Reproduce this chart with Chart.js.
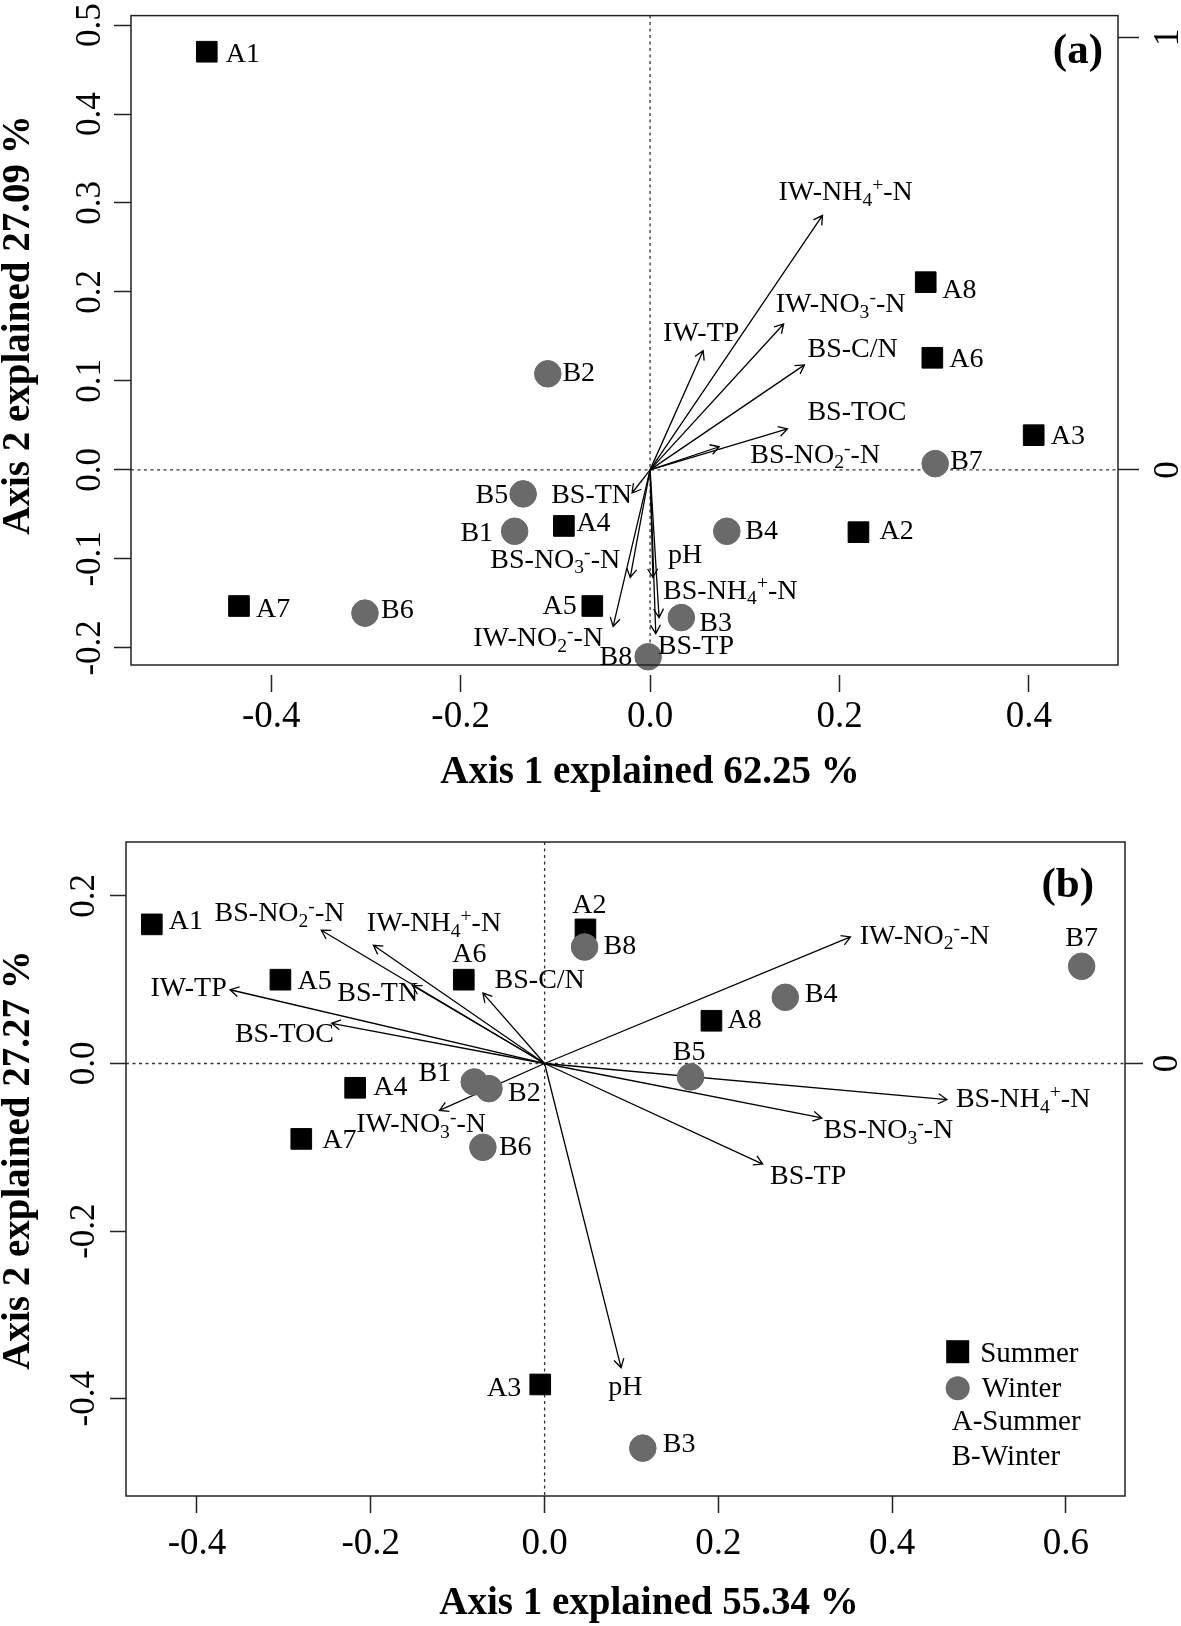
<!DOCTYPE html>
<html>
<head>
<meta charset="utf-8">
<title>RDA biplots</title>
<script src="https://cdn.jsdelivr.net/npm/chart.js@4.4.1/dist/chart.umd.min.js"></script>
<style>
  html, body { margin: 0; padding: 0; background: #fff; }
  .panel { position: absolute; left: 0; width: 1181px; }
  #panelA { top: 0; height: 800px; }
  #panelB { top: 800px; height: 826px; }
</style>
</head>
<body>
<div class="panel" id="panelA"><canvas id="chartA"></canvas></div>
<div class="panel" id="panelB"><canvas id="chartB"></canvas></div>
<script>
// ---- panel (a) ----
const summerNamesA = ['A1', 'A2', 'A3', 'A4', 'A5', 'A6', 'A7', 'A8'];
const summerXA = [-0.468, 0.220, 0.405, -0.091, -0.061, 0.298, -0.434, 0.291];
const summerYA = [0.470, -0.070, 0.039, -0.063, -0.153, 0.126, -0.153, 0.211];
const winterNamesA = ['B1', 'B2', 'B3', 'B4', 'B5', 'B6', 'B7', 'B8'];
const winterXA = [-0.143, -0.108, 0.033, 0.081, -0.134, -0.301, 0.301, -0.002];
const winterYA = [-0.069, 0.108, -0.166, -0.069, -0.027, -0.161, 0.007, -0.210];
const envNamesA = ['IW-NH_4^+-N', 'IW-NO_3^--N', 'IW-TP', 'BS-C/N', 'BS-TOC', 'BS-NO_2^--N',
  'BS-TN', 'BS-NO_3^--N', 'IW-NO_2^--N', 'pH', 'BS-NH_4^+-N', 'BS-TP'];
const envXA = [0.182, 0.141, 0.056, 0.163, 0.145, 0.073, -0.019, -0.021, -0.039, 0.003, 0.0095, 0.006];
const envYA = [0.286, 0.164, 0.134, 0.118, 0.046, 0.026, -0.026, -0.121, -0.176, -0.121, -0.166, -0.184];
const xTicksA = [-0.4, -0.2, 0.0, 0.2, 0.4];
const yTicksA = [-0.2, -0.1, 0.0, 0.1, 0.2, 0.3, 0.4, 0.5];
const y2TicksA = [0, 1];

// ---- panel (b) ----
const summerNamesB = ['A1', 'A2', 'A3', 'A4', 'A5', 'A6', 'A7', 'A8'];
const summerXB = [-0.452, 0.047, -0.005, -0.218, -0.304, -0.093, -0.280, 0.192];
const summerYB = [0.166, 0.160, -0.383, -0.029, 0.100, 0.100, -0.090, 0.051];
const winterNamesB = ['B1', 'B2', 'B3', 'B4', 'B5', 'B6', 'B7', 'B8'];
const winterXB = [-0.081, -0.064, 0.113, 0.277, 0.168, -0.071, 0.618, 0.046];
const winterYB = [-0.022, -0.030, -0.459, 0.079, -0.016, -0.100, 0.116, 0.139];
const envNamesB = ['BS-NO_2^--N', 'IW-NH_4^+-N', 'IW-TP', 'BS-TN', 'BS-TOC', 'BS-C/N',
  'IW-NO_3^--N', 'IW-NO_2^--N', 'BS-NH_4^+-N', 'BS-NO_3^--N', 'BS-TP', 'pH'];
const envXB = [-0.257, -0.197, -0.362, -0.152, -0.245, -0.071, -0.121, 0.352, 0.463, 0.319, 0.251, 0.088];
const envYB = [0.159, 0.141, 0.088, 0.093, 0.048, 0.084, -0.056, 0.151, -0.043, -0.065, -0.120, -0.363];
const xTicksB = [-0.4, -0.2, 0.0, 0.2, 0.4, 0.6];
const yTicksB = [-0.4, -0.2, 0.0, 0.2];
const y2TicksB = [0];

// label placement: [dx, dy, align] in pixels from the mark
const pointPlaceA = {
  A1: [19, 10, 'left'], A2: [21, 7, 'left'], A3: [17, 9, 'left'], A4: [12.5, 5.5, 'left'],
  A5: [-15.5, 8, 'right'], A6: [17, 9.5, 'left'], A7: [17, 11, 'left'], A8: [16.5, 16, 'left'],
  B1: [-21.5, 9.5, 'right'], B2: [14.6, 7, 'left'], B3: [18, 13, 'left'], B4: [18.5, 7.5, 'left'],
  B5: [-15, 9, 'right'], B6: [16, 5, 'left'], B7: [15, 5, 'left'], B8: [-16, 8, 'right']
};
const envPlaceA = {
  'IW-NH_4^+-N': [-44, -15, 'left'], 'IW-NO_3^--N': [-8, -12, 'left'], 'IW-TP': [-40, -10, 'left'],
  'BS-C/N': [3, -8, 'left'], 'BS-TOC': [20, -9, 'left'], 'BS-NO_2^--N': [31, 16, 'left'],
  'BS-TN': [0, 10, 'right'], 'BS-NO_3^--N': [-10, -10, 'right'], 'IW-NO_2^--N': [-10, 20, 'right'],
  'pH': [15, -15, 'left'], 'BS-NH_4^+-N': [4, -19, 'left'], 'BS-TP': [2, 20, 'left']
};
const pointPlaceB = {
  A1: [17, 5, 'left'], A2: [4, -16, 'center'], A3: [-19, 11.5, 'right'], A4: [18, 7.5, 'left'],
  A5: [17, 9, 'left'], A6: [5.5, -18, 'center'], A7: [21, 9, 'left'], A8: [16, 7, 'left'],
  B1: [-23, -1, 'right'], B2: [19, 12.7, 'left'], B3: [20, 4, 'left'], B4: [19.5, 5, 'left'],
  B5: [-1.5, -17, 'center'], B6: [16, 8, 'left'], B7: [0, -20, 'center'], B8: [19, 7, 'left']
};
const envPlaceB = {
  'BS-NO_2^--N': [-106.7, -9, 'left'], 'IW-NH_4^+-N': [-6.6, -14.3, 'left'], 'IW-TP': [-3.3, 6.7, 'right'],
  'BS-TN': [5.6, 15.7, 'right'], 'BS-TOC': [2.3, 18.4, 'right'], 'BS-C/N': [11.7, -5, 'left'],
  'IW-NO_3^--N': [-83.3, 21.7, 'left'], 'IW-NO_2^--N': [9.3, 6.7, 'left'], 'BS-NH_4^+-N': [9, 7.4, 'left'],
  'BS-NO_3^--N': [1.6, 20, 'left'], 'BS-TP': [7.3, 20, 'left'], 'pH': [-12.8, 27.7, 'left']
};

const serif = '"Liberation Serif", "Times New Roman", serif';
const grey = '#6a6a6a';

function richSegments(s) {
  const segs = [];
  for (let i = 0; i < s.length; i++) {
    let kind = '', ch = s[i];
    if ((ch === '_' || ch === '^') && i + 1 < s.length) { kind = ch; ch = s[++i]; }
    const last = segs[segs.length - 1];
    if (last && last.kind === kind) last.text += ch;
    else segs.push({ kind, text: ch });
  }
  return segs;
}

function drawRich(ctx, s, x, y, size, align) {
  const segs = richSegments(s);
  const fontOf = g => (g.kind ? size * 0.7 : size) + 'px ' + serif;
  let w = 0;
  segs.forEach(g => { ctx.font = fontOf(g); g.w = ctx.measureText(g.text).width; w += g.w; });
  let cx = align === 'right' ? x - w : align === 'center' ? x - w / 2 : x;
  ctx.textAlign = 'left';
  ctx.textBaseline = 'alphabetic';
  segs.forEach(g => {
    ctx.font = fontOf(g);
    const dy = g.kind === '_' ? size * 0.2 : g.kind === '^' ? -size * 0.33 : 0;
    ctx.fillText(g.text, cx, y + dy);
    cx += g.w;
  });
}

function drawArrow(ctx, x1, y1, x2, y2) {
  const ang = Math.atan2(y2 - y1, x2 - x1);
  const h = 10, a = Math.PI / 6;
  ctx.beginPath();
  ctx.moveTo(x1, y1);
  ctx.lineTo(x2, y2);
  ctx.moveTo(x2 - h * Math.cos(ang - a), y2 - h * Math.sin(ang - a));
  ctx.lineTo(x2, y2);
  ctx.lineTo(x2 - h * Math.cos(ang + a), y2 - h * Math.sin(ang + a));
  ctx.stroke();
}

function rotText(ctx, text, x, y, font) {
  ctx.save();
  ctx.translate(x, y);
  ctx.rotate(-Math.PI / 2);
  ctx.font = font;
  ctx.textAlign = 'center';
  ctx.textBaseline = 'alphabetic';
  ctx.fillText(text, 0, 0);
  ctx.restore();
}

function biplotPlugin(p) {
  return {
    id: 'biplot',
    beforeDatasetsDraw(chart) {
      const { ctx, chartArea: a, scales: { x, y } } = chart;
      const x0 = x.getPixelForValue(0), y0 = y.getPixelForValue(0);
      ctx.save();
      ctx.strokeStyle = '#333';
      ctx.lineWidth = 1.3;
      ctx.setLineDash([3, 3.5]);
      ctx.beginPath();
      ctx.moveTo(x0, a.top); ctx.lineTo(x0, a.bottom);
      ctx.moveTo(a.left, y0); ctx.lineTo(a.right, y0);
      ctx.stroke();
      ctx.setLineDash([]);
      ctx.strokeStyle = '#000';
      ctx.lineWidth = 1.3;
      p.envX.forEach((vx, i) => {
        drawArrow(ctx, x0, y0, x.getPixelForValue(vx), y.getPixelForValue(p.envY[i]));
      });
      ctx.restore();
    },
    afterDatasetsDraw(chart) {
      const { ctx, chartArea: a, scales: { x, y, y2 } } = chart;
      ctx.save();
      ctx.strokeStyle = '#222';
      ctx.lineWidth = 1.5;
      ctx.strokeRect(a.left, a.top, a.right - a.left, a.bottom - a.top);
      ctx.fillStyle = '#000';

      chart.data.datasets.forEach(ds => ds.data.forEach(d => {
        const pl = p.pointPlace[d.name];
        drawRich(ctx, d.name, x.getPixelForValue(d.x) + pl[0], y.getPixelForValue(d.y) + pl[1], 28, pl[2]);
      }));
      p.envNames.forEach((n, i) => {
        const pl = p.envPlace[n];
        drawRich(ctx, n, x.getPixelForValue(p.envX[i]) + pl[0], y.getPixelForValue(p.envY[i]) + pl[1], 28, pl[2]);
      });

      // rotated y tick labels, as R draws them
      y.ticks.forEach(t => rotText(ctx, t.value.toFixed(1), p.yLabelX, y.getPixelForValue(t.value), '35px ' + serif));
      y2.ticks.forEach(t => rotText(ctx, String(t.value), p.y2LabelX, y2.getPixelForValue(t.value), '35px ' + serif));

      // axis titles and panel tag
      ctx.font = 'bold 39px ' + serif;
      ctx.textAlign = 'center';
      ctx.textBaseline = 'alphabetic';
      ctx.fillText(p.xTitle, p.xTitlePos[0], p.xTitlePos[1]);
      rotText(ctx, p.yTitle, p.yTitlePos[0], p.yTitlePos[1], 'bold 39px ' + serif);
      ctx.font = 'bold 43px ' + serif;
      ctx.textAlign = 'right';
      ctx.fillText(p.tag, p.tagPos[0], p.tagPos[1]);

      if (p.legend) {
        const L = p.legend;
        ctx.fillStyle = '#000';
        ctx.fillRect(L.x - 11.5, L.y - 11.5, 23, 23);
        ctx.fillStyle = grey;
        ctx.beginPath();
        ctx.arc(L.x, L.y + 36.5, 12, 0, Math.PI * 2);
        ctx.fill();
        ctx.fillStyle = '#000';
        ctx.font = '29px ' + serif;
        ctx.textAlign = 'left';
        ctx.fillText('Summer', L.x + 22.5, L.y + 10);
        ctx.fillText('Winter', L.x + 24, L.y + 45);
        ctx.fillText('A-Summer', L.x - 6, L.y + 78.5);
        ctx.fillText('B-Winter', L.x - 6, L.y + 113.5);
      }
      ctx.restore();
    }
  };
}

function makeTicks(values) {
  return scale => { scale.ticks = values.map(v => ({ value: v })); };
}

function buildPanel(canvasId, p) {
  const pts = (names, xs, ys) => names.map((n, i) => ({ x: xs[i], y: ys[i], name: n }));
  return new Chart(document.getElementById(canvasId), {
    type: 'scatter',
    data: {
      datasets: [
        {
          label: 'Winter',
          data: pts(p.winterNames, p.winterX, p.winterY),
          pointStyle: 'circle', pointRadius: 13.3, pointHoverRadius: 13.3,
          backgroundColor: grey, borderColor: grey, borderWidth: 1,
          order: 0, clip: false
        },
        {
          label: 'Summer',
          data: pts(p.summerNames, p.summerX, p.summerY),
          pointStyle: 'rect', pointRadius: 14.6, pointHoverRadius: 14.6,
          backgroundColor: '#000', borderColor: '#000', borderWidth: 1,
          order: 1, clip: false
        }
      ]
    },
    options: {
      responsive: true,
      maintainAspectRatio: false,
      animation: false,
      devicePixelRatio: 1,
      events: [],
      layout: { padding: { top: p.padTop, left: 0, right: 0, bottom: 0 } },
      plugins: { legend: { display: false }, tooltip: { enabled: false }, title: { display: false } },
      scales: {
        x: {
          type: 'linear', position: 'bottom', min: p.xRange[0], max: p.xRange[1],
          afterBuildTicks: makeTicks(p.xTicks),
          afterFit: s => { s.height = p.xAxisH; },
          border: { display: false },
          grid: { drawOnChartArea: false, tickLength: p.xTickLen, tickColor: '#222', tickWidth: 1.5, tickBorderDash: p.xTickDash },
          ticks: {
            font: { family: serif, size: 37 }, color: '#000', padding: p.xTickPad,
            autoSkip: false, maxRotation: 0, minRotation: 0,
            callback: v => Number(v).toFixed(1)
          }
        },
        y: {
          type: 'linear', position: 'left', min: p.yRange[0], max: p.yRange[1],
          afterBuildTicks: makeTicks(p.yTicks),
          afterFit: s => { s.width = p.yAxisW; },
          border: { display: false },
          grid: { drawOnChartArea: false, tickLength: p.yTickLen, tickColor: '#222', tickWidth: 1.5 },
          ticks: { display: false }
        },
        y2: {
          type: 'linear', position: 'right', min: p.y2Range[0], max: p.y2Range[1],
          afterBuildTicks: makeTicks(p.y2Ticks),
          afterFit: s => { s.width = p.y2AxisW; },
          border: { display: false },
          grid: { drawOnChartArea: false, tickLength: p.y2TickLen, tickColor: '#222', tickWidth: 1.5 },
          ticks: { display: false }
        }
      }
    },
    plugins: [biplotPlugin(p)]
  });
}

buildPanel('chartA', {
  summerNames: summerNamesA, summerX: summerXA, summerY: summerYA,
  winterNames: winterNamesA, winterX: winterXA, winterY: winterYA,
  envNames: envNamesA, envX: envXA, envY: envYA,
  xTicks: xTicksA, yTicks: yTicksA, y2Ticks: y2TicksA,
  xRange: [-0.548, 0.494], yRange: [-0.2193, 0.5106], y2Range: [-0.4512, 1.0505],
  pointPlace: pointPlaceA, envPlace: envPlaceA,
  padTop: 11, yAxisW: 131, y2AxisW: 63, xAxisH: 135,
  xTickLen: 27, xTickDash: [0, 10, 17, 40], xTickPad: 3, yTickLen: 17, y2TickLen: 21,
  yLabelX: 100, y2LabelX: 1178,
  xTitle: 'Axis 1 explained 62.25 %', xTitlePos: [650, 783],
  yTitle: 'Axis 2 explained 27.09 %', yTitlePos: [29, 325],
  tag: '(a)', tagPos: [1103, 63]
});

buildPanel('chartB', {
  summerNames: summerNamesB, summerX: summerXB, summerY: summerYB,
  winterNames: winterNamesB, winterX: winterXB, winterY: winterYB,
  envNames: envNamesB, envX: envXB, envY: envYB,
  xTicks: xTicksB, yTicks: yTicksB, y2Ticks: y2TicksB,
  xRange: [-0.4817, 0.6679], yRange: [-0.5161, 0.2643], y2Range: [-0.5161, 0.2643],
  pointPlace: pointPlaceB, envPlace: envPlaceB,
  padTop: 42, yAxisW: 126, y2AxisW: 56, xAxisH: 130,
  xTickLen: 17, xTickDash: [], xTickPad: 9, yTickLen: 16, y2TickLen: 18,
  yLabelX: 94, y2LabelX: 1177,
  xTitle: 'Axis 1 explained 55.34 %', xTitlePos: [649, 814],
  yTitle: 'Axis 2 explained 27.27 %', yTitlePos: [29, 360],
  tag: '(b)', tagPos: [1094, 97],
  legend: { x: 957.7, y: 551.7 }
});
</script>
</body>
</html>
